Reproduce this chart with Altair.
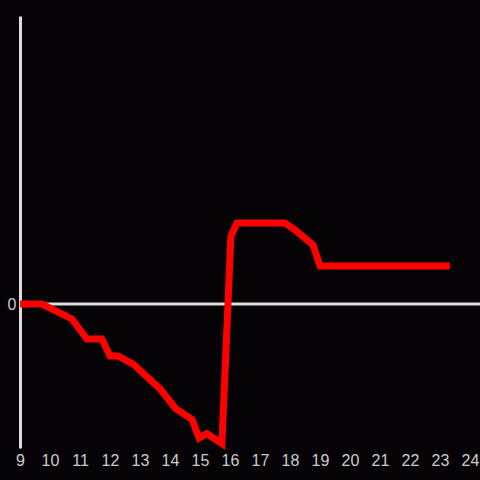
import altair as alt
import pandas as pd
import jinja2

hours = [9.0, 9.73, 10.73, 11.23, 11.73, 12.0, 12.27, 12.77, 13.67, 14.2, 14.73,
         14.97, 15.23, 15.73, 16.03, 16.23, 17.83, 18.17, 18.77, 19.0, 23.33]
values = [0.0, 0.0, -0.104, -0.243, -0.243, -0.361, -0.361, -0.417, -0.59, -0.729, -0.80,
          -0.93, -0.90, -0.97, 0.47, 0.5625, 0.5625, 0.514, 0.41, 0.264, 0.264]
x_ticks = list(range(9, 25))

BG = "#050306"

df = pd.DataFrame({"h": hours, "v": values})
zero = pd.DataFrame({"v": [0.0]})

xs = alt.Scale(domain=[9, 24.333], nice=False, zero=False)
ys = alt.Scale(domain=[-1, 2], nice=False, zero=False)

rule = alt.Chart(zero).mark_rule(color="#dddddd", strokeWidth=3).encode(
    y=alt.Y("v:Q", scale=ys)
)

line = alt.Chart(df).mark_line(color="#ff0000", strokeWidth=7, clip=False).encode(
    x=alt.X("h:Q", scale=xs, title=None,
            axis=alt.Axis(values=x_ticks, format="d", domain=False, ticks=False, grid=False,
                          labelPadding=4, labelColor="#cccccc", labelFontSize=16,
                          labelFont="Liberation Sans", labelFlush=False)),
    y=alt.Y("v:Q", scale=ys, title=None,
            axis=alt.Axis(values=[0], format="d", domain=True, domainColor="#dddddd", domainWidth=3,
                          ticks=False, grid=False, labelPadding=4, labelColor="#cccccc",
                          labelFontSize=16, labelFont="Liberation Sans")),
)

chart = alt.layer(rule, line).properties(
    width=460, height=432,
    autosize=alt.AutoSizeParams(type="none"),
    padding={"left": 20, "top": 16, "right": 0, "bottom": 32},
    background=BG,
).configure_view(stroke=None)

TEMPLATE = jinja2.Template("""<!DOCTYPE html>
<html>
<head>
  <style>
    html, body { margin: 0; padding: 0; background: """ + BG + """; overflow: hidden; }
    #{{ output_div }}.vega-embed { display: block; }
  </style>
  <script type="text/javascript" src="{{ base_url }}/vega@{{ vega_version }}"></script>
  <script type="text/javascript" src="{{ base_url }}/vega-lite@{{ vegalite_version }}"></script>
  <script type="text/javascript" src="{{ base_url }}/vega-embed@{{ vegaembed_version }}"></script>
</head>
<body>
  <div id="{{ output_div }}"></div>
  <script>
    (function(vegaEmbed) {
      var spec = {{ spec }};
      var embedOpt = {{ embed_options }};
      const el = document.getElementById('{{ output_div }}');
      vegaEmbed("#{{ output_div }}", spec, embedOpt).catch(function(error) {
        el.innerHTML = '<div style="color:red;">' + error.message + '</div>';
        throw error;
      });
    })(vegaEmbed);
  </script>
</body>
</html>
""")

chart.save("out.html", embed_options={"renderer": "svg", "actions": False}, template=TEMPLATE)
